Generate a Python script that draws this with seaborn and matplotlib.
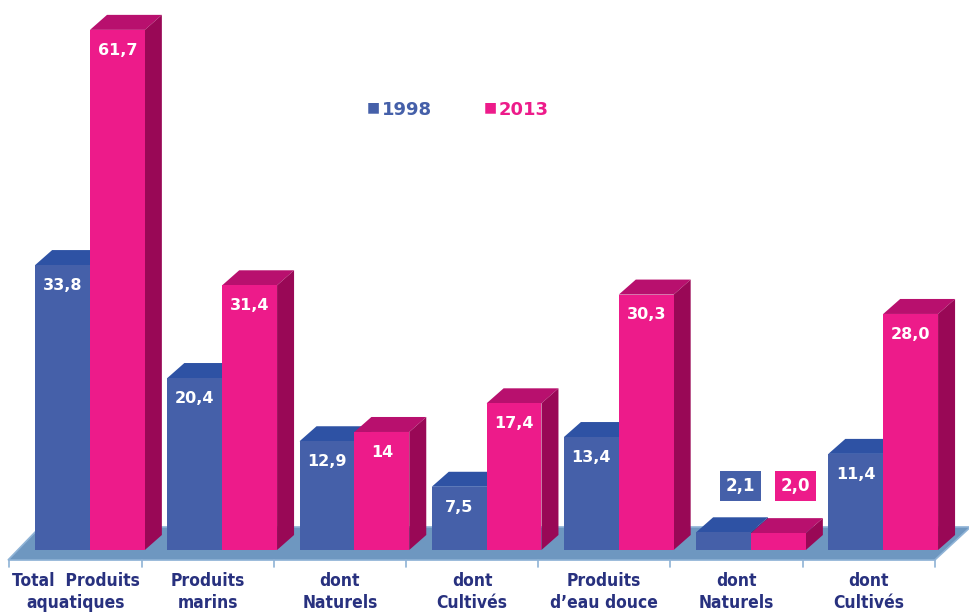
import matplotlib
matplotlib.use("Agg")
import matplotlib.pyplot as plt
from matplotlib.patches import Polygon
import seaborn as sns
import pandas as pd

categories = ["Total  Produits\naquatiques", "Produits\nmarins", "dont\nNaturels",
              "dont\nCultivés", "Produits\nd’eau douce", "dont\nNaturels", "dont\nCultivés"]
years = ["1998", "2013"]
values_1998 = [33.8, 20.4, 12.9, 7.5, 13.4, 2.1, 11.4]
values_2013 = [61.7, 31.4, 14.0, 17.4, 30.3, 2.0, 28.0]
labels_1998 = ["33,8", "20,4", "12,9", "7,5", "13,4", "2,1", "11,4"]
labels_2013 = ["61,7", "31,4", "14", "17,4", "30,3", "2,0", "28,0"]

front = {"1998": "#4560A9", "2013": "#ED1B8A"}
top = {"1998": "#2E52A4", "2013": "#B8106E"}
side = {"1998": "#263F86", "2013": "#990856"}
label_col = "#28317F"

sns.set_theme(style="white")
plt.rcParams["font.family"] = ["DejaVu Sans"]

rows = []
for i in range(len(categories)):
    rows.append({"idx": i, "year": "1998", "value": values_1998[i]})
    rows.append({"idx": i, "year": "2013", "value": values_2013[i]})
df = pd.DataFrame(rows)

fig = plt.figure(figsize=(9.7, 6.12), dpi=100)
ax = fig.add_axes([0, 0, 1, 1])

sns.barplot(data=df, x="idx", y="value", hue="year", hue_order=years,
            palette=front, width=0.83, ax=ax, legend=False, saturation=1,
            linewidth=0, zorder=3)

px_cat = 132.2
px_val = 8.43
ax.set_xlim(-90 / px_cat, 880 / px_cat)
ax.set_ylim(-62 / px_val, 550 / px_val)
ax.axis("off")

dx = 17 / px_cat
dy = 15 / px_val

# floor
floor = Polygon([(-0.62, -1.19), (6.39, -1.19), (6.66, 2.73), (-0.378, 2.73)],
                closed=True, facecolor="#6E97C0", edgecolor="#8FB3D6", lw=1.2, zorder=1)
ax.add_patch(floor)
for b in range(-1, len(categories)):
    xb = b - 0.11 + 0.5
    ax.plot([xb, xb], [-1.19, -2.0], color="#8FB3D6", lw=1.2, zorder=1)

lab_lists = {"1998": labels_1998, "2013": labels_2013}
for k, (year, cont) in enumerate(zip(years, ax.containers)):
    zf = 3 + 2 * k
    for j, p in enumerate(cont.patches):
        p.set_zorder(zf)
        x0 = p.get_x()
        w = p.get_width()
        h = p.get_height()
        ax.add_patch(Polygon([(x0, h), (x0 + w, h), (x0 + w + dx, h + dy), (x0 + dx, h + dy)],
                             closed=True, facecolor=top[year], lw=0, zorder=zf - 0.5))
        ax.add_patch(Polygon([(x0 + w, 0), (x0 + w + dx, dy), (x0 + w + dx, h + dy), (x0 + w, h)],
                             closed=True, facecolor=side[year], lw=0, zorder=zf - 0.5))
        txt = lab_lists[year][j]
        if h > 5:
            ax.text(x0 + w / 2, h - 2.4, txt, ha="center", va="center", color="white",
                    fontsize=11.5, fontweight="bold", zorder=10)
        else:
            ax.text(x0 + w / 2 + dx, 7.6, txt, ha="center", va="center", color="white",
                    fontsize=12, fontweight="bold", zorder=10,
                    bbox=dict(boxstyle="square,pad=0.35", facecolor=front[year], edgecolor="none"))

# category labels
for i, c in enumerate(categories):
    ax.text(i - 0.11, -5.0, c, ha="center", va="center", color=label_col,
            fontsize=12.5, fontweight="bold", linespacing=1.3,
            family="DejaVu Sans", fontstretch="condensed")

# legend
leg_y = (612 - 110) / 612
for xpx, year in [(373, "1998"), (490, "2013")]:
    ax.text(xpx / 970, (612 - 107) / 612, "■", transform=ax.transAxes, ha="center", va="center",
            color=front[year], fontsize=10)
    ax.text((xpx + 9) / 970, leg_y, year, transform=ax.transAxes, ha="left", va="center",
            color=front[year], fontsize=13, fontweight="bold")

fig.savefig("out.png", dpi=100)
